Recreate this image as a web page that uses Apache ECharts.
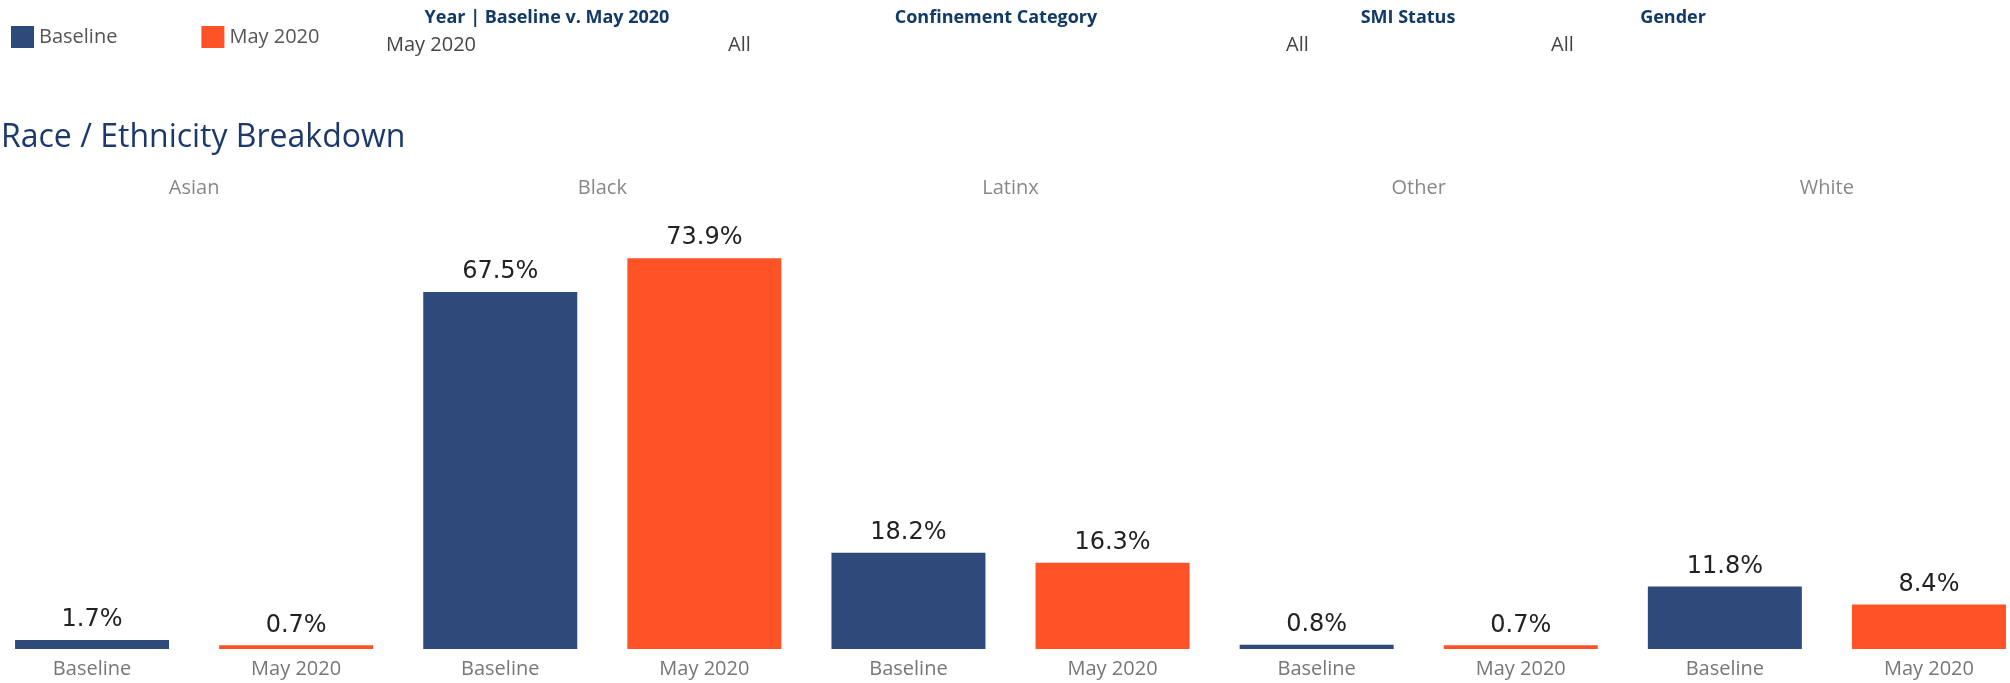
<!DOCTYPE html>
<html>
<head>
<meta charset="utf-8">
<script src="https://cdn.jsdelivr.net/npm/echarts@6/dist/echarts.min.js"></script>
<style>
  html, body { margin: 0; padding: 0; background: #fff; }
  #chart { width: 2010px; height: 683px; }
</style>
</head>
<body>
<div id="chart"></div>
<script>
// race groups and periods
var races = ["Asian", "Black", "Latinx", "Other", "White"];
var periods = ["Baseline", "May 2020"];
// share of population (%)
var baselineVals = [1.7, 67.5, 18.2, 0.8, 11.8];
var may2020Vals = [0.7, 73.9, 16.3, 0.7, 8.4];
// filter panel
var filterTitles = ["Year | Baseline v. May 2020", "Confinement Category", "SMI Status", "Gender"];
var filterValues = ["May 2020", "All", "All", "All"];

var navy = "#2E4A7A";
var orange = "#FF5226";

// one category per bar, e.g. "Asian|Baseline"
var cats = [];
var baseData = [];
var mayData = [];
races.forEach(function (r, i) {
  periods.forEach(function (p) {
    cats.push(r + "|" + p);
    baseData.push(p == "Baseline" ? baselineVals[i] : "-");
    mayData.push(p == "May 2020" ? may2020Vals[i] : "-");
  });
});

var myChart = echarts.init(document.getElementById("chart"));

var labelStyle = {
  show: true,
  position: "top",
  distance: 8,
  fontFamily: "DejaVu Sans",
  fontSize: 24,
  color: "#222",
  formatter: function (p) {
    return p.value.toFixed(1) + "%";
  },
};

var titleFont = "bold 18px 'Open Sans'";
var valueFont = "20px 'Open Sans'";

var option = {
  animation: false,
  title: {
    text: "Race / Ethnicity Breakdown",
    left: -4,
    top: 117,
    textStyle: { fontFamily: "Open Sans", fontWeight: "normal", fontSize: 32, color: "#1B3A6B" },
  },
  legend: {
    left: 6,
    top: 21,
    itemWidth: 23,
    itemHeight: 22,
    itemGap: 84,
    icon: "rect",
    textStyle: { fontFamily: "Open Sans", fontSize: 20, color: "#555" },
    data: ["Baseline", "May 2020"],
  },
  graphic: [
    { type: "text", x: 547, y: 18, style: { text: filterTitles[0], align: "center", verticalAlign: "middle", font: titleFont, fill: "#123A66" } },
    { type: "text", x: 996, y: 18, style: { text: filterTitles[1], align: "center", verticalAlign: "middle", font: titleFont, fill: "#123A66" } },
    { type: "text", x: 1408, y: 18, style: { text: filterTitles[2], align: "center", verticalAlign: "middle", font: titleFont, fill: "#123A66" } },
    { type: "text", x: 1673, y: 18, style: { text: filterTitles[3], align: "center", verticalAlign: "middle", font: titleFont, fill: "#123A66" } },
    { type: "text", x: 386, y: 45, style: { text: filterValues[0], verticalAlign: "middle", font: valueFont, fill: "#444" } },
    { type: "text", x: 728, y: 45, style: { text: filterValues[1], verticalAlign: "middle", font: valueFont, fill: "#444" } },
    { type: "text", x: 1286, y: 45, style: { text: filterValues[2], verticalAlign: "middle", font: valueFont, fill: "#444" } },
    { type: "text", x: 1551, y: 45, style: { text: filterValues[3], verticalAlign: "middle", font: valueFont, fill: "#444" } },
  ],
  grid: {
    left: -10,
    right: -21,
    top: 226,
    bottom: 34,
    containLabel: false,
    outerBoundsMode: "none",
  },
  xAxis: [
    {
      type: "category",
      data: cats,
      axisLine: { show: false },
      axisTick: { show: false },
      axisLabel: {
        interval: 0,
        margin: 10,
        fontFamily: "Open Sans",
        fontSize: 20,
        color: "#777",
        formatter: function (v) {
          return v.split("|")[1];
        },
      },
    },
    {
      type: "category",
      position: "top",
      data: races,
      axisLine: { show: false },
      axisTick: { show: false },
      axisLabel: {
        interval: 0,
        margin: 28,
        fontFamily: "Open Sans",
        fontSize: 20,
        color: "#888",
      },
    },
  ],
  yAxis: {
    type: "value",
    min: 0,
    max: 80,
    show: false,
    splitLine: { show: false },
  },
  series: [
    {
      name: "Baseline",
      type: "bar",
      stack: "one",
      barWidth: 154,
      data: baseData,
      itemStyle: { color: navy },
      label: labelStyle,
    },
    {
      name: "May 2020",
      type: "bar",
      stack: "one",
      barWidth: 154,
      data: mayData,
      itemStyle: { color: orange },
      label: labelStyle,
    },
  ],
};

myChart.setOption(option);
</script>
</body>
</html>
